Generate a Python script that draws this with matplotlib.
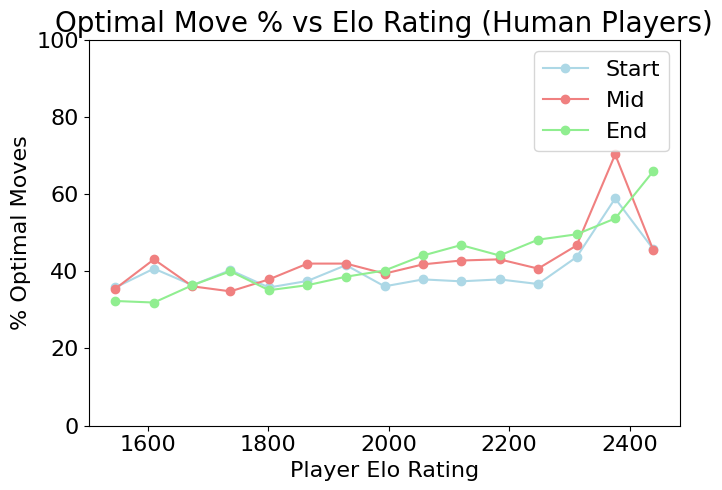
import matplotlib
matplotlib.use("Agg")
import matplotlib.pyplot as plt

elo = [1546, 1610, 1674, 1737, 1801, 1865, 1929, 1993, 2057, 2120, 2184, 2248, 2312, 2376, 2439]
start = [35.8, 40.7, 36.4, 40.3, 35.8, 37.5, 41.6, 36.1, 37.9, 37.4, 37.9, 36.7, 43.7, 58.9, 45.8]
mid = [35.5, 43.1, 36.1, 34.8, 37.9, 42.0, 42.0, 39.4, 41.8, 42.8, 43.1, 40.7, 46.7, 70.3, 45.6]
end = [32.3, 31.9, 36.4, 40.0, 35.1, 36.4, 38.6, 40.2, 44.1, 46.8, 44.1, 48.2, 49.6, 53.7, 65.9]

plt.rcParams['font.size'] = 16

fig = plt.figure(figsize=(7.22, 4.9), dpi=100)
ax = fig.add_axes([0.1226, 0.1316, 0.8192, 0.7868])
ax.plot(elo, start, marker='o', color='lightblue', label='Start')
ax.plot(elo, mid, marker='o', color='lightcoral', label='Mid')
ax.plot(elo, end, marker='o', color='lightgreen', label='End')
ax.set_ylim(0, 100)
ax.set_xlabel('Player Elo Rating')
ax.set_ylabel('% Optimal Moves')
ax.set_title('Optimal Move % vs Elo Rating (Human Players)', fontsize=20)
ax.legend(loc='upper right')
fig.savefig('out.png', dpi=100)
